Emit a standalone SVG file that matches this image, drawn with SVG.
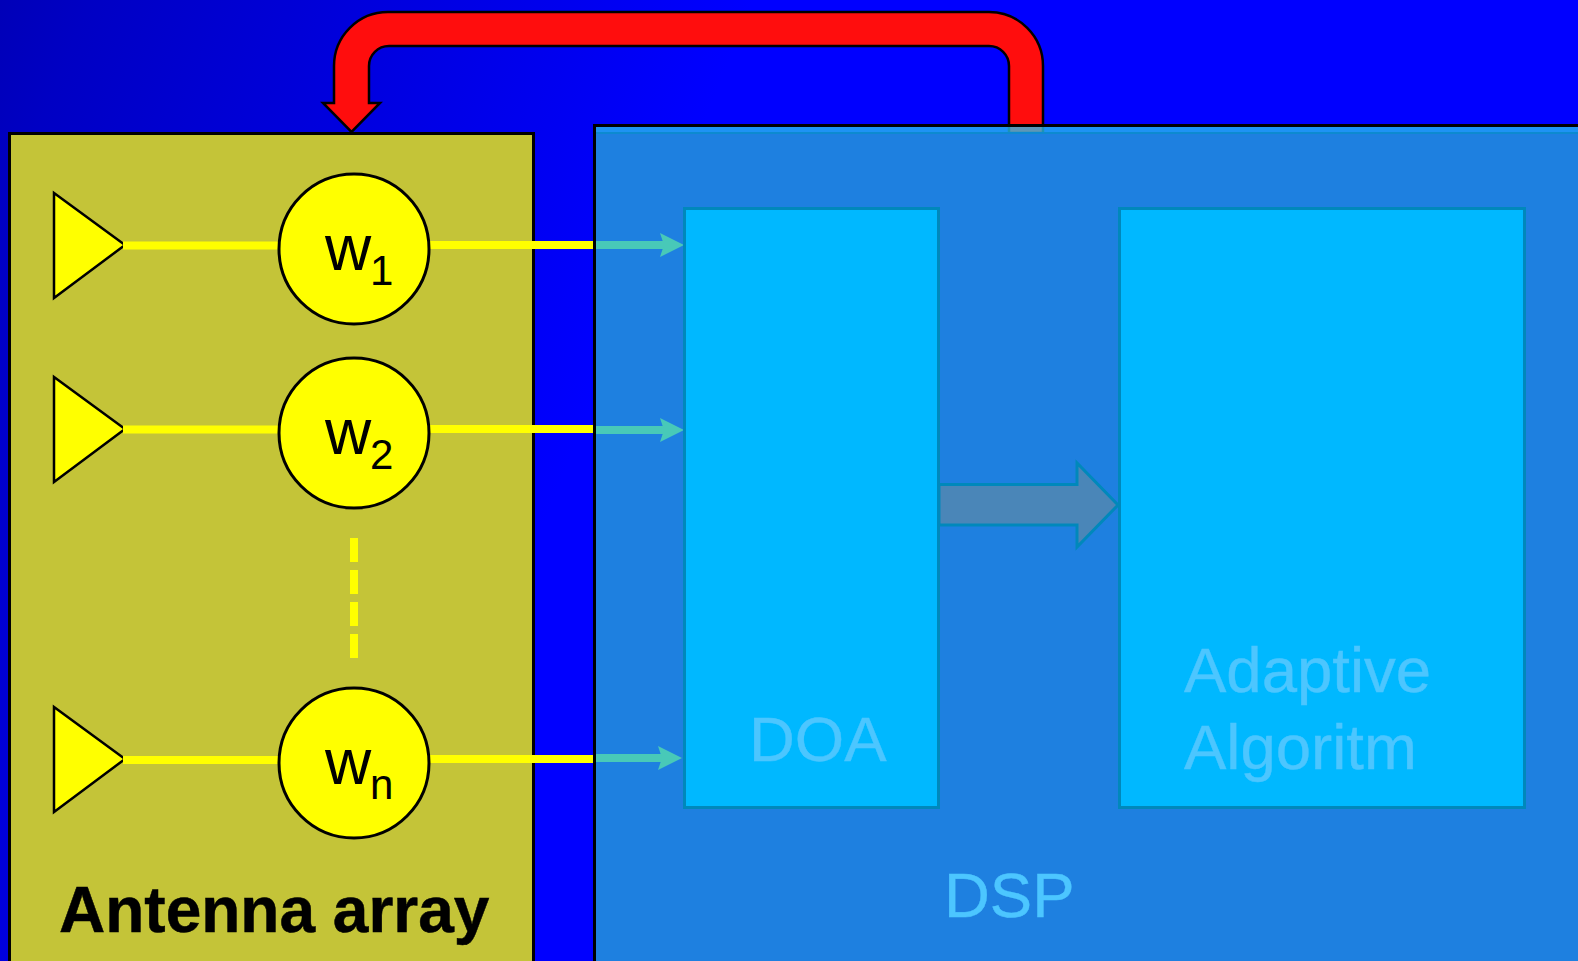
<svg xmlns="http://www.w3.org/2000/svg" width="1578" height="961" viewBox="0 0 1578 961">
<style>
.s{font-family:"Liberation Sans",Arial,sans-serif}
.ant{fill:#ffff00;stroke:#000;stroke-width:2.500;stroke-linejoin:miter}
.w{fill:#ffff00;stroke:#000;stroke-width:3}
.wl{font-size:64px;fill:#000}
.wi{font-size:42px;fill:#000}
.yl{stroke:#ffff00;stroke-width:8;fill:none}
.tl{stroke:#48c9b8;stroke-width:8;fill:none}
.th{fill:#48c9b8}
.box{fill:#00b8ff;stroke:#0088bb;stroke-width:3}
.dl{font-size:63.500px;fill:#4cc6ff;stroke:#4cc6ff;stroke-width:0.400}
</style>
<defs>
<linearGradient id="bg" gradientUnits="userSpaceOnUse" x1="0" y1="0" x2="650" y2="260"><stop offset="0" stop-color="#0000b8"/><stop offset="0.12" stop-color="#0000c4"/><stop offset="1" stop-color="#0000ff"/></linearGradient>
</defs>
<rect id="background" width="1578" height="961" fill="url(#bg)"/>
<g id="antenna-array">
<rect x="9.500" y="133.500" width="524" height="840" fill="#c4c438" stroke="#000" stroke-width="3"/>
<text class="s" x="59" y="932" font-size="64" font-weight="bold" fill="#000" stroke="#000" stroke-width="0.500">Antenna array</text>
</g>
<g id="feedback-arrow">
<path d="M1043 133V66A54 54 0 0 0 989 12H388A54 54 0 0 0 334 66V103H323L351.500 132L380 103H369V66A20 20 0 0 1 389 46H989A20 20 0 0 1 1009 66V133Z" fill="#ff0d0d" stroke="#000" stroke-width="2.500"/>
</g>
<g id="dsp">
<rect x="595" y="125" width="990" height="850" fill="#28c4f0" fill-opacity="0.75" stroke="none"/>
<rect x="595" y="133" width="990" height="840" fill="#1e80e0"/>
<path d="M595 133H1578" stroke="#0d8ad0" stroke-width="2" fill="none"/>
<path d="M594.500 961V125.500H1578" stroke="#000" stroke-width="3" fill="none"/>
<text class="s dl" x="944" y="917">DSP</text>
</g>
<g id="antenna-1"><path class="ant" d="M54 193L125 245L54 298Z"/></g>
<g id="antenna-2"><path class="ant" d="M54 377L125 429L54 482Z"/></g>
<g id="antenna-n"><path class="ant" d="M54 707L125 759L54 812Z"/></g>
<g id="connectors">
<path class="yl" d="M123 245.500H280M428 245H593"/>
<path class="yl" d="M123 429.500H280M428 429H593"/>
<path class="yl" d="M123 760H280M428 759H593"/>
<path class="yl" d="M354 538V658" stroke-dasharray="24 8"/>
<path class="tl" d="M596 245H664"/><path class="th" d="M684 245L660 233L664 245L660 257Z"/>
<path class="tl" d="M596 430H664"/><path class="th" d="M684 430L660 418L664 430L660 442Z"/>
<path class="tl" d="M596 758H662"/><path class="th" d="M682 758L658 746L662 758L658 770Z"/>
</g>
<g id="weight-1"><circle class="w" cx="354" cy="249" r="75"/><text class="s wl" x="325" y="270">w</text><text class="s wi" x="370" y="285">1</text></g>
<g id="weight-2"><circle class="w" cx="354" cy="433" r="75"/><text class="s wl" x="325" y="454">w</text><text class="s wi" x="370" y="469">2</text></g>
<g id="weight-n"><circle class="w" cx="354" cy="763" r="75"/><text class="s wl" x="325" y="784">w</text><text class="s wi" x="370" y="799">n</text></g>
<g id="doa"><rect class="box" x="684.500" y="208.500" width="254" height="599"/><text class="s dl" x="749" y="761">DOA</text></g>
<g id="adaptive"><rect class="box" x="1119.500" y="208.500" width="405" height="599"/><text class="s dl" x="1184" y="692">Adaptive</text><text class="s dl" x="1184" y="769">Algoritm</text></g>
<g id="flow-arrow"><path d="M939 484.500H1077V463L1118 505L1077 547V525H939Z" fill="#4a86b8" stroke="#0088bb" stroke-width="3"/></g>
</svg>
